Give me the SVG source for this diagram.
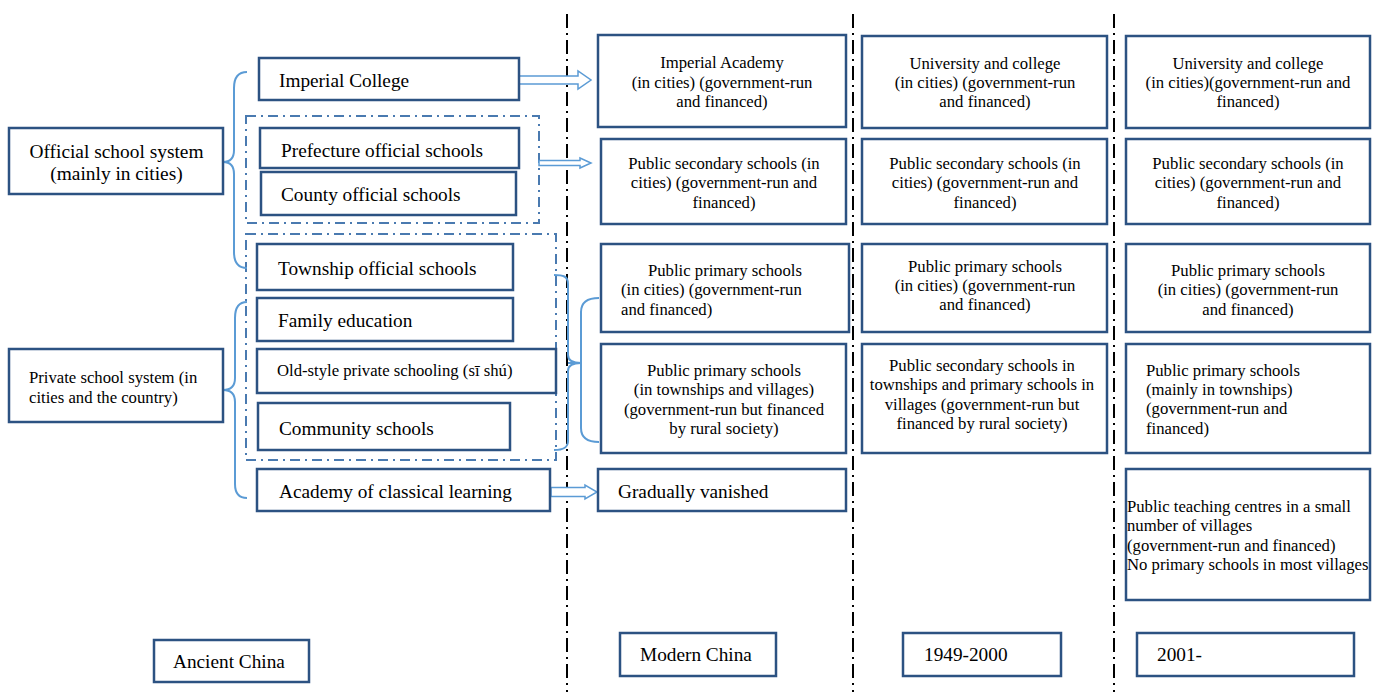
<svg xmlns="http://www.w3.org/2000/svg" width="1375" height="692" viewBox="0 0 1375 692">
<style>
.box{fill:#fff;stroke:#2C5282;stroke-width:2.5}
.t{font-family:"Liberation Serif","DejaVu Serif",serif;fill:#000}
.m{font-size:16.7px}
.l{font-size:19.3px}
.c{text-anchor:middle}
.div{fill:none;stroke:#000;stroke-width:2;stroke-dasharray:14 5 2 5}
.grp{fill:none;stroke:#4A7AB0;stroke-width:2;stroke-dasharray:10 5 2 5}
.br{fill:none;stroke:#5B9BD5;stroke-width:2}
.ar{fill:#fff;stroke:#5B9BD5;stroke-width:1.5}
</style>
<rect width="1375" height="692" fill="#fff"/>
<g id="dividers">
<line class="div" x1="567" y1="14" x2="567" y2="692"/>
<line class="div" x1="853" y1="14" x2="853" y2="692"/>
<line class="div" x1="1114" y1="14" x2="1114" y2="692"/>
</g>
<g id="groups">
<rect class="grp" x="246" y="116" width="293" height="107"/>
<rect class="grp" x="246" y="234" width="310" height="226"/>
</g>
<g id="connectors">
<path class="br" d="M247,72 C238,72 234,78 234,88 L234,150 C234,158 230,162 223,162 C230,162 234,166 234,174 L234,252 C234,262 238,268 247,268"/>
<path class="br" d="M247,302 C239,302 235,308 235,318 L235,378 C235,386 231,390 223,390 C231,390 235,394 235,402 L235,484 C235,493 239,498 247,498"/>
<path class="br" d="M554,275 C563,275 568,276 568,284 L568,355 C568,360 572,363 581,363 C572,363 568,366 568,371 L568,441 C568,448 563,450 554,450"/>
<path class="br" d="M599,298 C588,298 581,302 581,312 L581,428 C581,438 588,442 599,442"/>
<path class="br" d="M568,363 L581,363"/>
<polygon class="ar" points="519,76 578,76 578,71 591,80 578,89 578,84 519,84"/>
<polygon class="ar" points="539,160.5 580,160.5 580,158 591,163 580,168 580,165.5 539,165.5"/>
<polygon class="ar" points="551,487.5 585,487.5 585,485 597,492 585,499 585,496.5 551,496.5"/>
</g>
<g id="official">
<rect class="box" x="9" y="128" width="214" height="66"/>
<text class="t c" style="font-size:19.4px" x="116.5" y="158">Official school system</text>
<text class="t c" style="font-size:19.4px" x="116.5" y="180">(mainly in cities)</text>
</g>
<g id="private">
<rect class="box" x="9" y="349" width="214" height="73"/>
<text class="t m" x="29" y="383">Private school system (in</text>
<text class="t m" x="29" y="403">cities and the country)</text>
</g>
<g id="imperial-college">
<rect class="box" x="259" y="58" width="260" height="42"/>
<text class="t l" x="279" y="87">Imperial College</text>
</g>
<g id="prefecture">
<rect class="box" x="260" y="128" width="259" height="40"/>
<text class="t l" x="281" y="157">Prefecture official schools</text>
</g>
<g id="county">
<rect class="box" x="261" y="172" width="255" height="43"/>
<text class="t l" x="281" y="201">County official schools</text>
</g>
<g id="township">
<rect class="box" x="257" y="244" width="256" height="46"/>
<text class="t l" x="278" y="275">Township official schools</text>
</g>
<g id="family">
<rect class="box" x="257" y="298" width="256" height="43"/>
<text class="t l" x="278" y="327">Family education</text>
</g>
<g id="sishu">
<rect class="box" x="257" y="349" width="299" height="44"/>
<text class="t m" x="277" y="376">Old-style private schooling (sī shú)</text>
</g>
<g id="community">
<rect class="box" x="258" y="403" width="252" height="47"/>
<text class="t l" x="279" y="435">Community schools</text>
</g>
<g id="academy">
<rect class="box" x="257" y="469" width="293" height="42"/>
<text class="t l" x="279" y="498">Academy of classical learning</text>
</g>
<g id="m-academy">
<rect class="box" x="598" y="35" width="248" height="92"/>
<text class="t m c" x="722" y="68">Imperial Academy</text>
<text class="t m c" x="722" y="88">(in cities) (government-run</text>
<text class="t m c" x="722" y="107">and financed)</text>
</g>
<g id="m-secondary">
<rect class="box" x="601" y="139" width="245" height="85"/>
<text class="t m c" x="724" y="169">Public secondary schools (in</text>
<text class="t m c" x="724" y="188">cities) (government-run and</text>
<text class="t m c" x="724" y="208">financed)</text>
</g>
<g id="m-primary-city">
<rect class="box" x="601" y="244" width="248" height="88"/>
<text class="t m" x="648" y="276">Public primary schools</text>
<text class="t m" x="621" y="295">(in cities) (government-run</text>
<text class="t m" x="621" y="315">and financed)</text>
</g>
<g id="m-primary-rural">
<rect class="box" x="601" y="344" width="245" height="109"/>
<text class="t m c" x="724" y="376">Public primary schools</text>
<text class="t m c" x="724" y="395">(in townships and villages)</text>
<text class="t m c" x="724" y="415">(government-run but financed</text>
<text class="t m c" x="724" y="434">by rural society)</text>
</g>
<g id="m-vanished">
<rect class="box" x="598" y="469" width="248" height="42"/>
<text class="t l" x="618" y="498">Gradually vanished</text>
</g>
<g id="p-university">
<rect class="box" x="862" y="36" width="245" height="92"/>
<text class="t m c" x="985" y="69">University and college</text>
<text class="t m c" x="985" y="88">(in cities) (government-run</text>
<text class="t m c" x="985" y="107">and financed)</text>
</g>
<g id="p-secondary">
<rect class="box" x="862" y="139" width="245" height="85"/>
<text class="t m c" x="985" y="169">Public secondary schools (in</text>
<text class="t m c" x="985" y="188">cities) (government-run and</text>
<text class="t m c" x="985" y="208">financed)</text>
</g>
<g id="p-primary">
<rect class="box" x="862" y="244" width="245" height="88"/>
<text class="t m c" x="985" y="272">Public primary schools</text>
<text class="t m c" x="985" y="291">(in cities) (government-run</text>
<text class="t m c" x="985" y="310">and financed)</text>
</g>
<g id="p-rural">
<rect class="box" x="862" y="344" width="245" height="109"/>
<text class="t m c" x="982" y="371">Public secondary schools in</text>
<text class="t m c" x="982" y="390">townships and primary schools in</text>
<text class="t m c" x="982" y="410">villages (government-run but</text>
<text class="t m c" x="982" y="429">financed by rural society)</text>
</g>
<g id="n-university">
<rect class="box" x="1126" y="36" width="244" height="92"/>
<text class="t m c" x="1248" y="69">University and college</text>
<text class="t m c" x="1248" y="88">(in cities)(government-run and</text>
<text class="t m c" x="1248" y="107">financed)</text>
</g>
<g id="n-secondary">
<rect class="box" x="1126" y="139" width="244" height="85"/>
<text class="t m c" x="1248" y="169">Public secondary schools (in</text>
<text class="t m c" x="1248" y="188">cities) (government-run and</text>
<text class="t m c" x="1248" y="208">financed)</text>
</g>
<g id="n-primary">
<rect class="box" x="1126" y="244" width="244" height="88"/>
<text class="t m c" x="1248" y="276">Public primary schools</text>
<text class="t m c" x="1248" y="295">(in cities) (government-run</text>
<text class="t m c" x="1248" y="315">and financed)</text>
</g>
<g id="n-township">
<rect class="box" x="1126" y="344" width="244" height="109"/>
<text class="t m" x="1146" y="376">Public primary schools</text>
<text class="t m" x="1146" y="395">(mainly in townships)</text>
<text class="t m" x="1146" y="414">(government-run and</text>
<text class="t m" x="1146" y="434">financed)</text>
</g>
<g id="n-centres">
<rect class="box" x="1126" y="469" width="244" height="131"/>
<text class="t m" x="1127" y="512">Public teaching centres in a small</text>
<text class="t m" x="1127" y="531">number of villages</text>
<text class="t m" x="1127" y="551">(government-run and financed)</text>
<text class="t m" x="1127" y="570">No primary schools in most villages</text>
</g>
<g id="ancient">
<rect class="box" x="154" y="640" width="155" height="42"/>
<text class="t l" x="173" y="668">Ancient China</text>
</g>
<g id="modern">
<rect class="box" x="620" y="633" width="156" height="43"/>
<text class="t l" x="640" y="661">Modern China</text>
</g>
<g id="y1949">
<rect class="box" x="903" y="633" width="158" height="43"/>
<text class="t l" x="924" y="661">1949-2000</text>
</g>
<g id="y2001">
<rect class="box" x="1137" y="633" width="217" height="43"/>
<text class="t l" x="1157" y="661">2001-</text>
</g>
</svg>
